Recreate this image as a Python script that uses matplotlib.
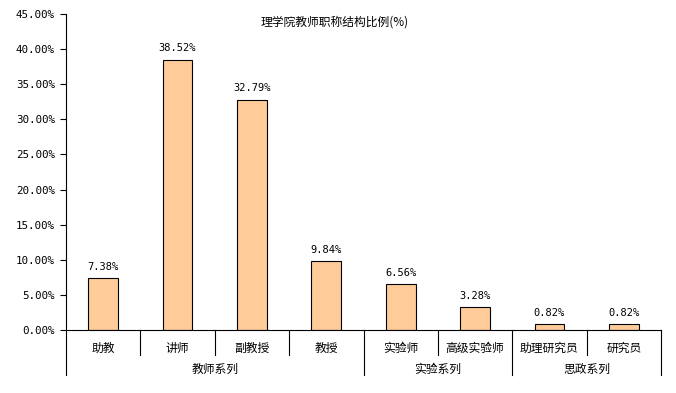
import numpy as np
import matplotlib.pyplot as plt
import matplotlib.transforms as mtransforms

plt.rcParams['font.family'] = ['Noto Sans CJK SC', 'DejaVu Sans']

# data
positions = ['助教', '讲师', '副教授', '教授', '实验师', '高级实验师', '助理研究员', '研究员']
values = [7.38, 38.52, 32.79, 9.84, 6.56, 3.28, 0.82, 0.82]
groups = ['教师系列', '实验系列', '思政系列']
group_sizes = [4, 2, 2]
title = '理学院教师职称结构比例(%)'

num_font = ['DejaVu Sans Mono']

fig = plt.figure(figsize=(6.76, 3.93), dpi=100)
ax = fig.add_axes([66 / 676, 1 - 330 / 393, 595 / 676, 316 / 393])

x = np.arange(len(positions))
ax.bar(x, values, width=0.4, color='#FFCC99', edgecolor='black', linewidth=0.8)
for xi, v in zip(x, values):
    ax.text(xi, v + 0.9, '%.2f%%' % v, ha='center', va='bottom', fontsize=7.5, family=num_font)

ax.set_xlim(-0.5, len(positions) - 0.5)
ax.set_ylim(0, 45)
yt = np.arange(0, 46, 5)
ax.set_yticks(yt)
ax.set_yticklabels(['%.2f%%' % t for t in yt], fontsize=7.8, family=num_font)
ax.tick_params(axis='y', direction='out', length=4, width=0.8, pad=4)
ax.set_xticks([])
for s in ['top', 'right']:
    ax.spines[s].set_visible(False)
ax.spines['left'].set_linewidth(0.8)
ax.spines['bottom'].set_linewidth(0.8)

# hierarchical category axis
trans = mtransforms.blended_transform_factory(ax.transData, ax.transAxes)
lo1 = -25 / 316   # end of category separators
lo2 = -45 / 316   # end of group separators
for xi, p in zip(x, positions):
    ax.text(xi, -18 / 316, p, transform=trans, ha='center', va='center', fontsize=8.5)

bounds = np.cumsum([0] + group_sizes) - 0.5
for b in np.arange(0.5, len(positions) - 0.5):
    if b not in bounds:
        ax.plot([b, b], [0, lo1], transform=trans, color='black', lw=0.8, clip_on=False)
for b in bounds:
    ax.plot([b, b], [0, lo2], transform=trans, color='black', lw=0.8, clip_on=False)
for g, a, b in zip(groups, bounds[:-1], bounds[1:]):
    ax.text((a + b) / 2, -39 / 316, g, transform=trans, ha='center', va='center', fontsize=8.5)

fig.text(335 / 676, 1 - 22 / 393, title, ha='center', va='center', fontsize=8.5)

fig.savefig('out.png', dpi=100)
